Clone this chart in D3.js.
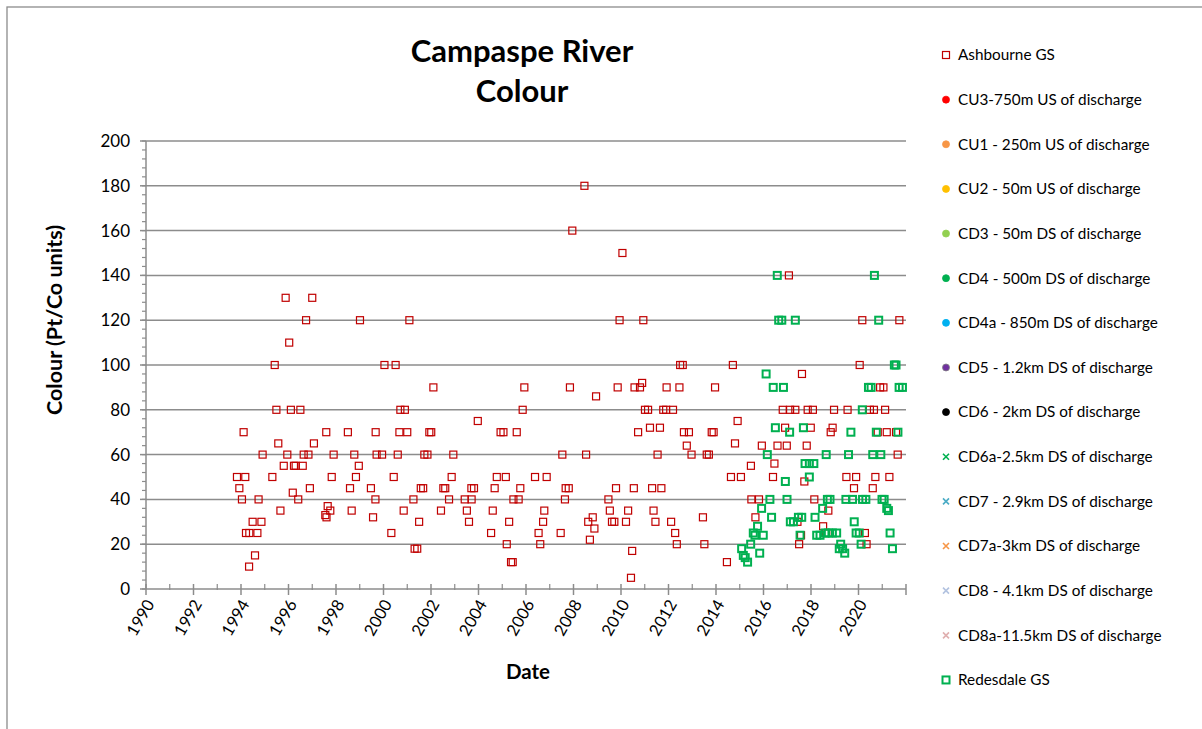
<!DOCTYPE html>
<html>
<head>
<meta charset="utf-8">
<script src="https://cdn.jsdelivr.net/npm/d3@7"></script>
<style>
  body { margin: 0; background: #fff; }
  svg { font-family: Lato, "Open Sans", sans-serif; }
</style>
</head>
<body>
<script>
// sample dates as decimal years, colour values in Pt/Co units
var ashYears = [1993.83,1993.93,1994.04,1994.11,1994.18,1994.21,1994.34,1994.35,1994.49,1994.59,1994.69,1994.74,1994.86,1994.91,
  1995.32,1995.42,1995.49,1995.57,1995.66,1995.8,1995.88,1995.95,1996.03,1996.1,1996.18,1996.23,1996.3,1996.41,1996.5,1996.6,
  1996.64,1996.74,1996.84,1996.9,1997.0,1997.07,1997.55,1997.59,1997.6,1997.65,1997.76,1997.82,1997.9,1998.5,1998.59,1998.66,
  1998.77,1998.84,1998.96,1999.01,1999.47,1999.56,1999.66,1999.67,1999.71,1999.94,2000.04,2000.33,2000.43,2000.51,2000.6,
  2000.67,2000.71,2000.85,2000.9,2001.0,2001.09,2001.26,2001.31,2001.42,2001.5,2001.57,2001.67,2001.72,2001.85,2001.93,2002.01,
  2002.1,2002.42,2002.52,2002.6,2002.76,2002.87,2002.94,2003.42,2003.51,2003.6,2003.7,2003.71,2003.81,2003.97,2004.53,2004.6,
  2004.68,2004.77,2004.93,2005.05,2005.15,2005.19,2005.29,2005.37,2005.44,2005.47,2005.61,2005.69,2005.76,2005.86,2005.93,
  2006.38,2006.53,2006.6,2006.72,2006.77,2006.87,2007.46,2007.53,2007.64,2007.67,2007.8,2007.85,2007.95,2008.46,2008.53,
  2008.62,2008.69,2008.81,2008.88,2008.95,2009.47,2009.53,2009.62,2009.72,2009.79,2009.86,2009.94,2010.06,2010.21,2010.3,
  2010.42,2010.47,2010.54,2010.57,2010.72,2010.8,2010.89,2010.94,2011.01,2011.14,2011.22,2011.31,2011.37,2011.45,2011.54,
  2011.64,2011.7,2011.78,2011.9,2011.92,2012.11,2012.19,2012.28,2012.35,2012.46,2012.49,2012.6,2012.65,2012.77,2012.86,
  2012.97,2013.45,2013.51,2013.61,2013.7,2013.82,2013.9,2013.96,2014.46,2014.63,2014.71,2014.8,2014.91,2015.05,2015.47,
  2015.49,2015.66,2015.81,2015.93,2016.4,2016.46,2016.59,2016.81,2016.91,2016.98,2017.07,2017.12,2017.34,2017.43,2017.5,
  2017.58,2017.62,2017.72,2017.82,2017.86,2017.99,2018.08,2018.14,2018.51,2018.64,2018.73,2018.83,2018.91,2018.97,2019.49,
  2019.54,2019.81,2019.9,2020.05,2020.16,2020.27,2020.34,2020.48,2020.6,2020.65,2020.71,2020.81,2020.91,2021.05,2021.12,
  2021.19,2021.3,2021.58,2021.65,2021.72]
var ashColour = [50,45,40,70,50,25,10,25,30,15,25,40,30,60,
  50,100,80,65,35,55,130,60,110,80,43,55,55,40,80,55,
  60,120,60,45,130,65,33,70,32,37,35,50,60,70,45,35,
  60,50,55,120,45,32,40,70,60,60,100,25,50,100,60,
  70,80,35,80,70,120,40,18,18,30,45,45,60,60,70,70,
  90,35,45,45,40,50,60,40,35,30,45,40,45,75,25,35,
  45,50,70,70,50,20,30,12,12,40,70,40,45,80,90,
  50,25,20,30,35,50,25,60,40,45,45,90,160,180,60,
  30,22,32,27,86,40,35,30,30,45,90,120,150,30,35,
  5,17,45,90,70,90,92,120,80,80,72,45,35,30,60,
  72,45,80,80,90,30,80,25,20,90,100,100,70,64,70,
  60,32,20,60,60,70,70,90,12,50,100,65,75,50,55,
  40,32,40,64,50,56,64,80,72,64,140,80,80,30,20,
  24,96,48,64,80,72,80,40,28,25,35,70,72,80,50,
  80,45,50,100,120,25,20,80,45,80,50,70,90,90,80,
  70,50,70,60,120]

var redYears = [2015.08,2015.15,2015.23,2015.33,2015.46,2015.57,2015.64,2015.75,2015.84,2015.92,2015.99,2016.11,2016.16,
  2016.27,2016.34,2016.41,2016.5,2016.58,2016.64,2016.77,2016.84,2016.92,2016.99,2017.1,2017.13,2017.26,2017.34,2017.47,
  2017.54,2017.61,2017.68,2017.75,2017.93,2017.93,2018.12,2018.17,2018.24,2018.38,2018.49,2018.59,2018.64,2018.69,2018.73,
  2018.8,2018.9,2019.08,2019.19,2019.25,2019.33,2019.42,2019.47,2019.58,2019.68,2019.75,2019.82,2019.9,2020.03,2020.11,
  2020.16,2020.17,2020.31,2020.42,2020.53,2020.6,2020.67,2020.75,2020.85,2020.94,2020.99,2021.08,2021.19,2021.26,2021.33,
  2021.43,2021.51,2021.58,2021.66,2021.71,2021.85]
var redColour = [18,15,14,12,20,25,24,28,16,36,24,96,60,
  40,32,90,72,140,120,120,90,48,40,70,30,30,120,32,
  24,32,72,56,56,50,56,32,24,24,36,25,60,40,25,
  40,25,25,18,20,18,16,40,60,70,40,30,25,25,20,
  80,40,40,90,90,60,140,70,120,60,40,40,36,35,25,
  18,100,100,70,90,90]

var yTicks = [0,20,40,60,80,100,120,140,160,180,200]
var xLabelYears = [1990,1992,1994,1996,1998,2000,2002,2004,2006,2008,2010,2012,2014,2016,2018,2020]

var legendNames = ["Ashbourne GS","CU3-750m US of discharge","CU1 - 250m US of discharge","CU2 - 50m US of discharge",
  "CD3 - 50m DS of discharge","CD4 - 500m DS of discharge","CD4a - 850m DS of discharge","CD5 - 1.2km DS of discharge",
  "CD6 - 2km DS of discharge","CD6a-2.5km DS of discharge","CD7 - 2.9km DS of discharge","CD7a-3km DS of discharge",
  "CD8 - 4.1km DS of discharge","CD8a-11.5km DS of discharge","Redesdale GS"]
var legendColours = ["#C00000","#FF0000","#F79646","#FFC000","#92D050","#00B050","#00B0F0","#7030A0",
  "#000000","#00B050","#4BACC6","#F79646","#B3C3E0","#E0B0B0","#00B050"]
var legendShapes = ["square","circle","circle","circle","circle","circle","circle","circle",
  "circle","cross","cross","cross","cross","cross","squareBold"]

var W = 1202, H = 729
var svg = d3.select("body").append("svg")
  .attr("width", W)
  .attr("height", H)

// chart area border (runs off the picture on the right and bottom)
svg.append("rect")
  .attr("x", 7).attr("y", 7)
  .attr("width", 1300).attr("height", 800)
  .attr("fill", "#fff")
  .attr("stroke", "#8c8c8c")
  .attr("stroke-width", 1.3)

var x = d3.scaleLinear().domain([1990, 2022]).range([146, 906])
var y = d3.scaleLinear().domain([0, 200]).range([589, 141])

// gridlines
svg.append("g")
  .selectAll("line")
  .data(yTicks.slice(1))
  .enter().append("line")
  .attr("x1", x(1990)).attr("x2", x(2022))
  .attr("y1", d => y(d)).attr("y2", d => y(d))
  .attr("stroke", "#8c8c8c")
  .attr("stroke-width", 1.5)

// y axis
var yAxis = svg.append("g").attr("class", "yaxis")
yAxis.append("line")
  .attr("x1", x(1990)).attr("x2", x(1990))
  .attr("y1", y(0)).attr("y2", y(200))
  .attr("stroke", "#8c8c8c").attr("stroke-width", 1.5)
yAxis.selectAll(".minor")
  .data(d3.range(0, 201, 4))
  .enter().append("line")
  .attr("x1", x(1990) - 4).attr("x2", x(1990))
  .attr("y1", d => y(d)).attr("y2", d => y(d))
  .attr("stroke", "#8c8c8c").attr("stroke-width", 1.2)
yAxis.selectAll(".major")
  .data(yTicks)
  .enter().append("line")
  .attr("x1", x(1990) - 6).attr("x2", x(1990))
  .attr("y1", d => y(d)).attr("y2", d => y(d))
  .attr("stroke", "#8c8c8c").attr("stroke-width", 1.5)
yAxis.selectAll("text")
  .data(yTicks)
  .enter().append("text")
  .attr("x", 130)
  .attr("y", d => y(d))
  .attr("dy", "0.35em")
  .attr("text-anchor", "end")
  .attr("font-size", 17)
  .attr("fill", "#000")
  .text(d => d)

// x axis
var xAxis = svg.append("g").attr("class", "xaxis")
xAxis.append("line")
  .attr("x1", x(1990)).attr("x2", x(2022))
  .attr("y1", y(0)).attr("y2", y(0))
  .attr("stroke", "#8c8c8c").attr("stroke-width", 1.5)
xAxis.selectAll(".minor")
  .data(d3.range(1991, 2022, 2))
  .enter().append("line")
  .attr("x1", d => x(d)).attr("x2", d => x(d))
  .attr("y1", y(0) - 5).attr("y2", y(0) + 1)
  .attr("stroke", "#8c8c8c").attr("stroke-width", 1.2)
xAxis.selectAll(".major")
  .data(d3.range(1990, 2023, 2))
  .enter().append("line")
  .attr("x1", d => x(d)).attr("x2", d => x(d))
  .attr("y1", y(0) - 5).attr("y2", y(0) + 6)
  .attr("stroke", "#8c8c8c").attr("stroke-width", 1.5)
xAxis.selectAll("text")
  .data(xLabelYears)
  .enter().append("text")
  .attr("text-anchor", "end")
  .attr("font-size", 16.5)
  .attr("fill", "#000")
  .attr("transform", d => "translate(" + (x(d) + 9) + "," + (y(0) + 15) + ") rotate(-60)")
  .text(d => d)

// data points
var sq = 7
svg.append("g")
  .selectAll("rect")
  .data(ashYears.map((d, i) => [d, ashColour[i]]))
  .enter().append("rect")
  .attr("x", d => x(d[0]) - sq / 2)
  .attr("y", d => y(d[1]) - sq / 2)
  .attr("width", sq).attr("height", sq)
  .attr("fill", "none")
  .attr("stroke", "#C00000")
  .attr("stroke-width", 1.2)
svg.append("g")
  .selectAll("rect")
  .data(redYears.map((d, i) => [d, redColour[i]]))
  .enter().append("rect")
  .attr("x", d => x(d[0]) - sq / 2)
  .attr("y", d => y(d[1]) - sq / 2)
  .attr("width", sq).attr("height", sq)
  .attr("fill", "none")
  .attr("stroke", "#00B050")
  .attr("stroke-width", 2)

// titles
svg.append("text")
  .attr("x", 522).attr("y", 62)
  .attr("text-anchor", "middle")
  .attr("font-size", 31).attr("font-weight", "bold")
  .text("Campaspe River")
svg.append("text")
  .attr("x", 522).attr("y", 102)
  .attr("text-anchor", "middle")
  .attr("font-size", 31).attr("font-weight", "bold")
  .text("Colour")
svg.append("text")
  .attr("transform", "translate(62,320) rotate(-90)")
  .attr("text-anchor", "middle")
  .attr("font-size", 21.5).attr("font-weight", "bold")
  .text("Colour (Pt/Co units)")
svg.append("text")
  .attr("x", 528).attr("y", 679)
  .attr("text-anchor", "middle")
  .attr("font-size", 20.5).attr("font-weight", "bold")
  .text("Date")

// legend
var legend = svg.append("g")
  .selectAll("g")
  .data(legendNames)
  .enter().append("g")
  .attr("transform", (d, i) => "translate(946," + (55 + i * 44.64) + ")")
legend.each(function(d, i) {
  var g = d3.select(this)
  var shape = legendShapes[i], c = legendColours[i]
  if (shape == "square" || shape == "squareBold") {
    g.append("rect")
      .attr("x", -3.5).attr("y", -3.5)
      .attr("width", 7).attr("height", 7)
      .attr("fill", "none").attr("stroke", c)
      .attr("stroke-width", shape == "square" ? 1.2 : 2)
  } else if (shape == "circle") {
    g.append("circle").attr("r", 3.5)
      .attr("fill", c)
      .attr("stroke", i == 7 ? "#7f7f7f" : c).attr("stroke-width", 0.8)
  } else {
    g.append("path")
      .attr("d", "M-3,-3L3,3M-3,3L3,-3")
      .attr("stroke", c).attr("stroke-width", 1.6)
  }
})
legend.append("text")
  .attr("x", 12).attr("dy", "0.35em")
  .attr("font-size", 15.3)
  .attr("fill", "#000")
  .text(d => d)
</script>
</body>
</html>
